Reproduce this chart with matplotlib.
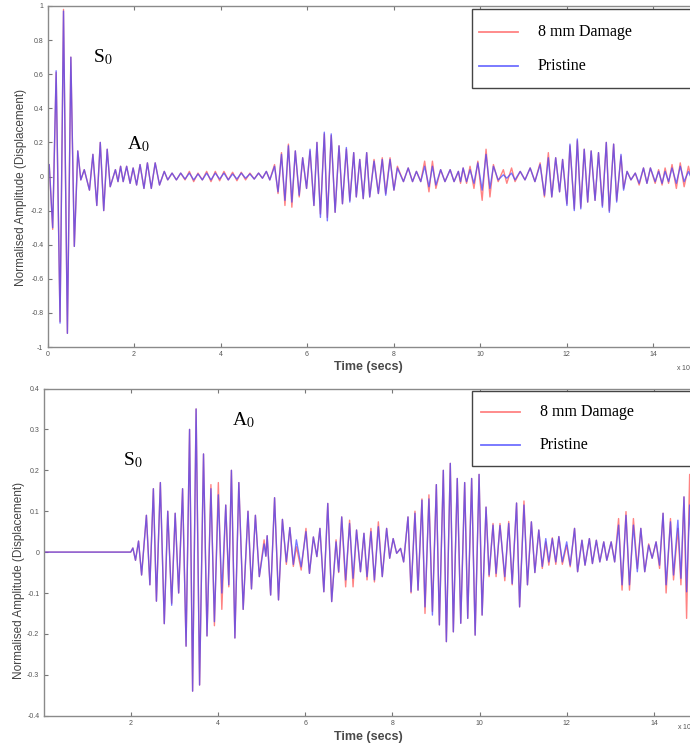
import matplotlib
matplotlib.use('Agg')
import matplotlib.pyplot as plt
from matplotlib.patches import Rectangle
from matplotlib.lines import Line2D

plt.rcParams['mathtext.fontset'] = 'stix'

# ---- data: extrema of the two signals (time in x10^-4 s) ----
top_t = [0.00, 0.04, 0.12, 0.20, 0.29, 0.37, 0.46, 0.54, 0.62, 0.70,
         0.77, 0.85, 0.97, 1.05, 1.14, 1.22, 1.30, 1.38, 1.45, 1.57,
         1.63, 1.69, 1.75, 1.83, 1.91, 1.98, 2.06, 2.14, 2.23, 2.31,
         2.40, 2.49, 2.59, 2.70, 2.78, 2.88, 2.98, 3.08, 3.18, 3.28,
         3.38, 3.48, 3.58, 3.68, 3.78, 3.88, 3.98, 4.08, 4.18, 4.28,
         4.38, 4.48, 4.58, 4.68, 4.78, 4.88, 4.97, 5.06, 5.14, 5.25,
         5.33, 5.41, 5.49, 5.57, 5.65, 5.73, 5.82, 5.90, 5.99, 6.07,
         6.16, 6.23, 6.31, 6.40, 6.47, 6.56, 6.65, 6.74, 6.82, 6.91,
         6.99, 7.08, 7.14, 7.22, 7.30, 7.38, 7.45, 7.55, 7.65, 7.74,
         7.82, 7.92, 8.01, 8.09, 8.23, 8.34, 8.44, 8.53, 8.63, 8.72,
         8.82, 8.90, 8.98, 9.09, 9.19, 9.31, 9.40, 9.50, 9.55, 9.61,
         9.69, 9.77, 9.86, 9.95, 10.05, 10.14, 10.23, 10.31, 10.42, 10.54,
         10.62, 10.73, 10.81, 10.93, 11.04, 11.16, 11.27, 11.39, 11.49, 11.58,
         11.66, 11.75, 11.84, 11.91, 12.01, 12.08, 12.18, 12.25, 12.33, 12.41,
         12.49, 12.57, 12.66, 12.74, 12.83, 12.92, 12.99, 13.09, 13.16, 13.26,
         13.32, 13.40, 13.49, 13.59, 13.68, 13.78, 13.86, 13.94, 14.05, 14.13,
         14.21, 14.28, 14.36, 14.44, 14.54, 14.63, 14.72, 14.82, 14.92, 15.00]

top_pristine = [0.00, 0.07, -0.30, 0.62, -0.86, 0.97, -0.92, 0.70, -0.41, 0.15,
                -0.02, 0.04, -0.08, 0.13, -0.17, 0.20, -0.20, 0.16, -0.06, 0.04,
                -0.03, 0.06, -0.03, 0.06, -0.04, 0.05, -0.05, 0.07, -0.07, 0.08,
                -0.07, 0.08, -0.05, 0.03, -0.02, 0.02, -0.02, 0.02, -0.015, 0.02,
                -0.02, 0.015, -0.02, 0.02, -0.02, 0.02, -0.015, 0.02, -0.02, 0.015,
                -0.015, 0.02, -0.01, 0.015, -0.015, 0.02, -0.01, 0.03, -0.02, 0.06,
                -0.09, 0.13, -0.14, 0.18, -0.15, 0.15, -0.11, 0.11, -0.07, 0.16,
                -0.17, 0.20, -0.24, 0.26, -0.26, 0.25, -0.21, 0.18, -0.16, 0.17,
                -0.15, 0.14, -0.12, 0.10, -0.13, 0.14, -0.12, 0.09, -0.10, 0.10,
                -0.11, 0.10, -0.08, 0.05, -0.03, 0.05, -0.03, 0.03, -0.03, 0.06,
                -0.06, 0.06, -0.05, 0.04, -0.03, 0.04, -0.03, 0.03, -0.03, 0.05,
                -0.03, 0.04, -0.04, 0.08, -0.08, 0.13, -0.07, 0.06, -0.02, 0.01,
                -0.01, 0.02, -0.02, 0.03, -0.02, 0.05, -0.03, 0.07, -0.11, 0.11,
                -0.12, 0.11, -0.09, 0.10, -0.17, 0.19, -0.20, 0.22, -0.19, 0.16,
                -0.15, 0.15, -0.14, 0.14, -0.18, 0.20, -0.21, 0.19, -0.15, 0.13,
                -0.08, 0.03, -0.02, 0.02, -0.04, 0.05, -0.04, 0.05, -0.03, 0.03,
                -0.04, 0.03, -0.03, 0.05, -0.04, 0.06, -0.03, 0.03, -0.03, 0.00]

top_damage = [0.00, 0.07, -0.31, 0.61, -0.85, 0.98, -0.92, 0.70, -0.41, 0.15,
              -0.02, 0.04, -0.08, 0.13, -0.17, 0.20, -0.20, 0.16, -0.06, 0.04,
              -0.03, 0.06, -0.03, 0.06, -0.04, 0.05, -0.05, 0.07, -0.07, 0.08,
              -0.07, 0.08, -0.05, 0.03, -0.02, 0.02, -0.02, 0.02, -0.02, 0.03,
              -0.03, 0.02, -0.02, 0.03, -0.03, 0.03, -0.025, 0.03, -0.02, 0.025,
              -0.025, 0.025, -0.02, 0.02, -0.015, 0.02, -0.01, 0.03, -0.02, 0.07,
              -0.10, 0.14, -0.17, 0.19, -0.18, 0.15, -0.12, 0.11, -0.07, 0.15,
              -0.17, 0.20, -0.22, 0.25, -0.24, 0.24, -0.21, 0.18, -0.16, 0.16,
              -0.14, 0.14, -0.12, 0.10, -0.13, 0.14, -0.12, 0.10, -0.10, 0.11,
              -0.10, 0.11, -0.08, 0.06, -0.03, 0.05, -0.03, 0.03, -0.03, 0.09,
              -0.09, 0.09, -0.07, 0.04, -0.03, 0.04, -0.03, 0.03, -0.04, 0.05,
              -0.04, 0.06, -0.07, 0.09, -0.14, 0.16, -0.12, 0.07, -0.03, 0.04,
              -0.04, 0.05, -0.03, 0.03, -0.02, 0.05, -0.03, 0.08, -0.12, 0.14,
              -0.12, 0.11, -0.09, 0.10, -0.16, 0.18, -0.19, 0.21, -0.18, 0.16,
              -0.15, 0.15, -0.14, 0.14, -0.17, 0.20, -0.20, 0.19, -0.14, 0.12,
              -0.07, 0.03, -0.02, 0.02, -0.05, 0.05, -0.04, 0.05, -0.04, 0.04,
              -0.05, 0.05, -0.04, 0.07, -0.07, 0.08, -0.06, 0.06, -0.05, 0.00]

bot_t = [0.00, 2.00, 2.05, 2.11, 2.18, 2.25, 2.36, 2.44, 2.52, 2.59,
         2.68, 2.77, 2.85, 2.94, 3.02, 3.10, 3.19, 3.27, 3.35, 3.42,
         3.50, 3.58, 3.67, 3.75, 3.84, 3.92, 4.01, 4.09, 4.18, 4.25,
         4.31, 4.39, 4.48, 4.58, 4.69, 4.77, 4.86, 4.95, 5.06, 5.10,
         5.13, 5.21, 5.30, 5.39, 5.48, 5.57, 5.65, 5.73, 5.80, 5.91,
         6.02, 6.10, 6.19, 6.27, 6.34, 6.43, 6.52, 6.61, 6.71, 6.77,
         6.84, 6.93, 7.02, 7.10, 7.18, 7.27, 7.35, 7.42, 7.51, 7.59,
         7.68, 7.77, 7.87, 7.94, 8.02, 8.10, 8.19, 8.26, 8.36, 8.43,
         8.52, 8.59, 8.68, 8.75, 8.84, 8.92, 9.01, 9.08, 9.17, 9.24,
         9.33, 9.40, 9.49, 9.57, 9.66, 9.73, 9.82, 9.90, 9.99, 10.06,
         10.15, 10.22, 10.31, 10.38, 10.47, 10.58, 10.67, 10.75, 10.85, 10.92,
         11.02, 11.10, 11.19, 11.27, 11.36, 11.44, 11.52, 11.59, 11.67, 11.75,
         11.82, 11.90, 12.00, 12.08, 12.18, 12.25, 12.35, 12.42, 12.52, 12.59,
         12.68, 12.76, 12.85, 12.92, 13.02, 13.10, 13.19, 13.27, 13.36, 13.44,
         13.53, 13.62, 13.70, 13.79, 13.88, 13.96, 14.05, 14.13, 14.21, 14.28,
         14.38, 14.45, 14.55, 14.62, 14.69, 14.75, 14.82, 14.88, 14.95, 15.00]

bot_pristine = [0.00, 0.00, 0.01, -0.02, 0.027, -0.056, 0.09, -0.08, 0.155, -0.12,
                0.17, -0.175, 0.10, -0.13, 0.095, -0.10, 0.155, -0.23, 0.30, -0.34,
                0.35, -0.325, 0.24, -0.205, 0.155, -0.17, 0.14, -0.10, 0.115, -0.08,
                0.20, -0.21, 0.17, -0.14, 0.10, -0.09, 0.09, -0.06, 0.02, -0.01,
                0.04, -0.105, 0.133, -0.117, 0.08, -0.024, 0.06, -0.03, 0.03, -0.036,
                0.05, -0.052, 0.037, -0.011, 0.058, -0.097, 0.119, -0.121, 0.025, -0.048,
                0.086, -0.068, 0.07, -0.064, 0.054, -0.048, 0.046, -0.06, 0.05, -0.068,
                0.062, -0.06, 0.058, -0.015, 0.033, -0.003, 0.009, -0.024, 0.086, -0.097,
                0.095, -0.093, 0.127, -0.134, 0.13, -0.154, 0.165, -0.178, 0.20, -0.219,
                0.217, -0.195, 0.18, -0.174, 0.17, -0.162, 0.18, -0.203, 0.19, -0.154,
                0.11, -0.056, 0.066, -0.052, 0.065, -0.06, 0.07, -0.077, 0.12, -0.134,
                0.115, -0.08, 0.074, -0.05, 0.054, -0.035, 0.033, -0.024, 0.033, -0.024,
                0.038, -0.024, 0.025, -0.032, 0.058, -0.048, 0.029, -0.032, 0.033, -0.028,
                0.029, -0.024, 0.025, -0.02, 0.025, -0.024, 0.066, -0.08, 0.09, -0.08,
                0.066, -0.048, 0.058, -0.048, 0.017, -0.015, 0.025, -0.032, 0.095, -0.08,
                0.074, -0.056, 0.078, -0.064, 0.135, -0.097, 0.115, -0.05, 0.04, 0.00]

bot_damage = [0.00, 0.00, 0.01, -0.02, 0.027, -0.056, 0.09, -0.08, 0.155, -0.12,
              0.17, -0.175, 0.10, -0.125, 0.095, -0.10, 0.155, -0.23, 0.30, -0.34,
              0.35, -0.325, 0.24, -0.205, 0.165, -0.18, 0.17, -0.14, 0.115, -0.085,
              0.20, -0.21, 0.17, -0.14, 0.10, -0.09, 0.09, -0.06, 0.03, -0.01,
              0.04, -0.105, 0.133, -0.117, 0.08, -0.03, 0.06, -0.035, 0.013, -0.044,
              0.058, -0.052, 0.037, -0.011, 0.058, -0.097, 0.119, -0.121, 0.03, -0.05,
              0.086, -0.085, 0.078, -0.085, 0.054, -0.048, 0.046, -0.068, 0.058, -0.073,
              0.074, -0.06, 0.058, -0.015, 0.033, -0.003, 0.009, -0.024, 0.086, -0.10,
              0.10, -0.093, 0.13, -0.15, 0.14, -0.145, 0.165, -0.178, 0.20, -0.219,
              0.217, -0.195, 0.18, -0.174, 0.17, -0.162, 0.18, -0.203, 0.19, -0.154,
              0.11, -0.06, 0.07, -0.06, 0.07, -0.07, 0.075, -0.08, 0.12, -0.134,
              0.125, -0.08, 0.074, -0.05, 0.054, -0.04, 0.025, -0.032, 0.035, -0.03,
              0.038, -0.03, 0.017, -0.036, 0.058, -0.048, 0.029, -0.032, 0.033, -0.028,
              0.029, -0.024, 0.025, -0.02, 0.025, -0.024, 0.082, -0.093, 0.099, -0.093,
              0.082, -0.04, 0.058, -0.048, 0.02, -0.015, 0.025, -0.04, 0.095, -0.10,
              0.082, -0.068, 0.058, -0.08, 0.135, -0.162, 0.19, -0.12, 0.06, 0.00]

top_yticks = [-1, -0.8, -0.6, -0.4, -0.2, 0, 0.2, 0.4, 0.6, 0.8, 1]
bot_yticks = [-0.4, -0.3, -0.2, -0.1, 0, 0.1, 0.2, 0.3, 0.4]
top_xticks = [0, 2, 4, 6, 8, 10, 12, 14]
bot_xticks = [2, 4, 6, 8, 10, 12, 14]
labels = ['8 mm Damage', 'Pristine']

# ---- layout helpers (pixel positions of the 690x746 picture) ----
W, H = 690, 746
RED = (1.0, 0.35, 0.35)
BLUE = (0.25, 0.25, 1.0)


def fx(x):
    return x / W


def fy(y):
    return 1 - y / H


fig = plt.figure(figsize=(6.9, 7.46), dpi=100)


def panel(left, top, bottom, unit, t, damage, pristine, ylim, yticks, xticks, lab_y):
    ax = fig.add_axes([fx(left), fy(bottom), 15 * unit / W, (bottom - top) / H])
    ax.plot(t, damage, color=RED, alpha=0.75, lw=1.0)
    ax.plot(t, pristine, color=BLUE, alpha=0.7, lw=1.0)
    ax.set_xlim(0, 15)
    ax.set_ylim(*ylim)
    ax.set_xticks(xticks)
    ax.set_xticklabels([f'{v:g}' for v in xticks])
    ax.set_yticks(yticks)
    ax.set_yticklabels([f'{v:g}' for v in yticks])
    ax.tick_params(direction='in', length=3, width=0.8, color='#777',
                   labelsize=5, labelcolor='#555', top=True, right=True, pad=3)
    for s in ax.spines.values():
        s.set_color('#8a8a8a')
        s.set_linewidth(1.0)
    for lab in ax.get_xticklabels() + ax.get_yticklabels():
        lab.set_family('Liberation Sans')
    ax.set_xlabel('Time (secs)', fontsize=9, color='#4a4a4a', family='Liberation Sans',
                  fontweight='bold')
    ax.xaxis.set_label_coords((368 - left) / (15 * unit), (bottom - lab_y) / (bottom - top))
    ax.xaxis.label.set_va('center')
    ax.set_ylabel('Normalised Amplitude (Displacement)', fontsize=8.5, color='#444',
                  family='Liberation Sans')
    ax.yaxis.label.set_va('center')
    return ax


ax1 = panel(47.5, 6, 347, 43.25, top_t, top_damage, top_pristine, (-1, 1),
            top_yticks, top_xticks, 367)
ax1.yaxis.set_label_coords((21 - 47.5) / (15 * 43.25), (347 - 187) / 341)

ax2 = panel(43.5, 388.5, 715.7, 43.6, bot_t, bot_damage, bot_pristine, (-0.4, 0.4),
            bot_yticks, bot_xticks, 737)
ax2.yaxis.set_label_coords((19 - 43.5) / (15 * 43.6), (715.7 - 580) / 327.2)

# exponent labels (cut by the picture edge, as in the source)
fig.text(fx(676), fy(368), r'x 10$^{-4}$', fontsize=5, color='#555',
         family='Liberation Sans', va='center')
fig.text(fx(677), fy(727), r'x 10$^{-4}$', fontsize=5, color='#555',
         family='Liberation Sans', va='center')

# mode annotations
serif = dict(fontsize=14, family='Liberation Serif', ha='center', va='center', color='black')
fig.text(fx(103), fy(57), 'S$_0$', **serif)
fig.text(fx(138), fy(144), 'A$_0$', **serif)
fig.text(fx(133), fy(460), 'S$_0$', **serif)
fig.text(fx(243), fy(420), 'A$_0$', **serif)

# legends (boxes run past the right edge of the picture)
for box_top, box_bot, y_red, y_blue, x_line, x_text in [(9, 88, 31.7, 66, 479, 538),
                                                         (391, 466, 411.7, 445, 480.5, 540)]:
    fig.patches.append(Rectangle((fx(471.7), fy(box_bot)), fx(260), (box_bot - box_top) / H,
                                 transform=fig.transFigure, facecolor='white',
                                 edgecolor='#444', lw=1.0, zorder=5))
    for yy, col, lab in [(y_red, RED, labels[0]), (y_blue, BLUE, labels[1])]:
        fig.lines.append(Line2D([fx(x_line), fx(x_line + 39)], [fy(yy), fy(yy)],
                                transform=fig.transFigure, color=col, alpha=0.75,
                                lw=1.3, zorder=6))
        fig.text(fx(x_text), fy(yy), lab, fontsize=11.5, family='Liberation Serif',
                 va='center', ha='left', zorder=6)

fig.savefig('out.png', dpi=100)
